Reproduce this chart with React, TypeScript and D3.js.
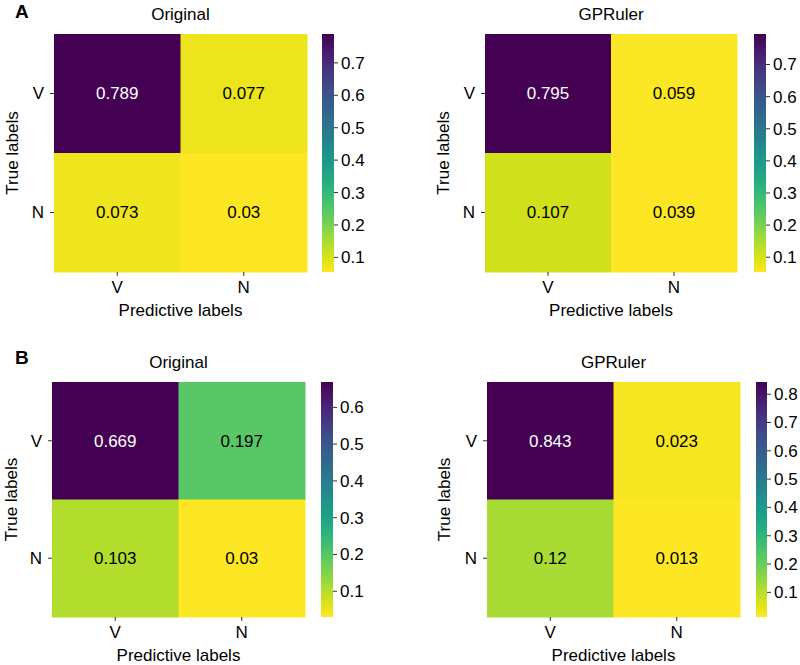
import React from "react";
import * as d3 from "d3";

const rowLabels = ["V", "N"];
const colLabels = ["V", "N"];

const aOriginal = [[0.789, 0.077], [0.073, 0.03]];
const aGPRuler = [[0.795, 0.059], [0.107, 0.039]];
const bOriginal = [[0.669, 0.197], [0.103, 0.03]];
const bGPRuler = [[0.843, 0.023], [0.12, 0.013]];

// colour-scale ranges
const aOriginalRange = [0.055, 0.789];
const aGPRulerRange = [0.054, 0.795];
const bOriginalRange = [0.03, 0.669];
const bGPRulerRange = [0.013, 0.843];

const aOriginalTicks = [0.1, 0.2, 0.3, 0.4, 0.5, 0.6, 0.7];
const aGPRulerTicks = [0.1, 0.2, 0.3, 0.4, 0.5, 0.6, 0.7];
const bOriginalTicks = [0.1, 0.2, 0.3, 0.4, 0.5, 0.6];
const bGPRulerTicks = [0.1, 0.2, 0.3, 0.4, 0.5, 0.6, 0.7, 0.8];

const FONT = "'Liberation Sans', Arial, Helvetica, sans-serif";
const FS = 17;

type PanelProps = {
  id: string;
  title: string;
  data: number[][];
  range: number[];
  ticks: number[];
  x0: number;
  x1: number;
  y0: number;
  y1: number;
  cbX: number;
  cbW: number;
  yLabelX: number;
};

function Panel({ id, title, data, range, ticks, x0, x1, y0, y1, cbX, cbW, yLabelX }: PanelProps) {
  const [vmin, vmax] = range;
  const norm = d3.scaleLinear().domain([vmin, vmax]).range([0, 1]).clamp(true);
  const color = (v: number) => d3.interpolateViridis(1 - norm(v));
  const xs = d3.scaleBand<string>().domain(colLabels).range([x0, x1]);
  const ys = d3.scaleBand<string>().domain(rowLabels).range([y0, y1]);
  const cbY = d3.scaleLinear().domain([vmin, vmax]).range([y1, y0]);
  const stops = d3.range(0, 1.0001, 0.05);
  const gid = "grad-" + id;
  const cx = (x0 + x1) / 2;
  const cy = (y0 + y1) / 2;
  return (
    <g>
      <defs>
        <linearGradient id={gid} x1="0" y1="1" x2="0" y2="0">
          {stops.map((s, i) => (
            <stop key={i} offset={s} stopColor={d3.interpolateViridis(1 - s)} />
          ))}
        </linearGradient>
      </defs>
      <text x={cx} y={y0 - 14} textAnchor="middle" fontSize={FS} fontFamily={FONT}>
        {title}
      </text>
      {data.map((row, i) =>
        row.map((v, j) => (
          <g key={i + "-" + j}>
            <rect
              x={xs(colLabels[j])!}
              y={ys(rowLabels[i])!}
              width={xs.bandwidth() + 0.5}
              height={ys.bandwidth() + 0.5}
              fill={color(v)}
            />
            <text
              x={xs(colLabels[j])! + xs.bandwidth() / 2}
              y={ys(rowLabels[i])! + ys.bandwidth() / 2}
              dy="0.35em"
              textAnchor="middle"
              fontSize={FS}
              fontFamily={FONT}
              fill={norm(v) > 0.5 ? "#ffffff" : "#000000"}
            >
              {String(v)}
            </text>
          </g>
        ))
      )}
      {colLabels.map((c) => {
        const x = xs(c)! + xs.bandwidth() / 2;
        return (
          <g key={"xt" + c}>
            <line x1={x} x2={x} y1={y1} y2={y1 + 4} stroke="#333" strokeWidth={1} />
            <text x={x} y={y1 + 21} textAnchor="middle" fontSize={FS} fontFamily={FONT}>
              {c}
            </text>
          </g>
        );
      })}
      {rowLabels.map((r) => {
        const y = ys(r)! + ys.bandwidth() / 2;
        return (
          <g key={"yt" + r}>
            <line x1={x0 - 4} x2={x0} y1={y} y2={y} stroke="#333" strokeWidth={1} />
            <text x={x0 - 10} y={y} dy="0.35em" textAnchor="end" fontSize={FS} fontFamily={FONT}>
              {r}
            </text>
          </g>
        );
      })}
      <text x={cx} y={y1 + 44} textAnchor="middle" fontSize={FS} fontFamily={FONT}>
        Predictive labels
      </text>
      <text
        transform={`translate(${yLabelX},${cy}) rotate(-90)`}
        textAnchor="middle"
        fontSize={FS}
        fontFamily={FONT}
      >
        True labels
      </text>
      <rect x={cbX} y={y0} width={cbW} height={y1 - y0} fill={`url(#${gid})`} />
      {ticks.map((t) => (
        <g key={"ct" + t}>
          <line x1={cbX + cbW} x2={cbX + cbW + 4} y1={cbY(t)} y2={cbY(t)} stroke="#333" strokeWidth={1} />
          <text x={cbX + cbW + 7} y={cbY(t)} dy="0.35em" fontSize={FS} fontFamily={FONT}>
            {t.toFixed(1)}
          </text>
        </g>
      ))}
    </g>
  );
}

export default function App() {
  return (
    <svg
      width={800}
      height={665}
      style={{ position: "absolute", left: 0, top: 0, background: "#fff" }}
    >
      <rect width={800} height={665} fill="#fff" />
      <text x={15} y={18} fontSize={19} fontWeight="bold" fontFamily={FONT}>A</text>
      <text x={15} y={364} fontSize={19} fontWeight="bold" fontFamily={FONT}>B</text>
      <Panel id="ao" title="Original" data={aOriginal} range={aOriginalRange} ticks={aOriginalTicks}
        x0={54} x1={307} y0={34} y1={272} cbX={322} cbW={12} yLabelX={18} />
      <Panel id="ag" title="GPRuler" data={aGPRuler} range={aGPRulerRange} ticks={aGPRulerTicks}
        x0={485} x1={737} y0={34} y1={272} cbX={754} cbW={12} yLabelX={449} />
      <Panel id="bo" title="Original" data={bOriginal} range={bOriginalRange} ticks={bOriginalTicks}
        x0={52} x1={305} y0={382} y1={617} cbX={321} cbW={12} yLabelX={17} />
      <Panel id="bg" title="GPRuler" data={bGPRuler} range={bGPRulerRange} ticks={bGPRulerTicks}
        x0={487} x1={740} y0={382} y1={617} cbX={756} cbW={11} yLabelX={450} />
    </svg>
  );
}
